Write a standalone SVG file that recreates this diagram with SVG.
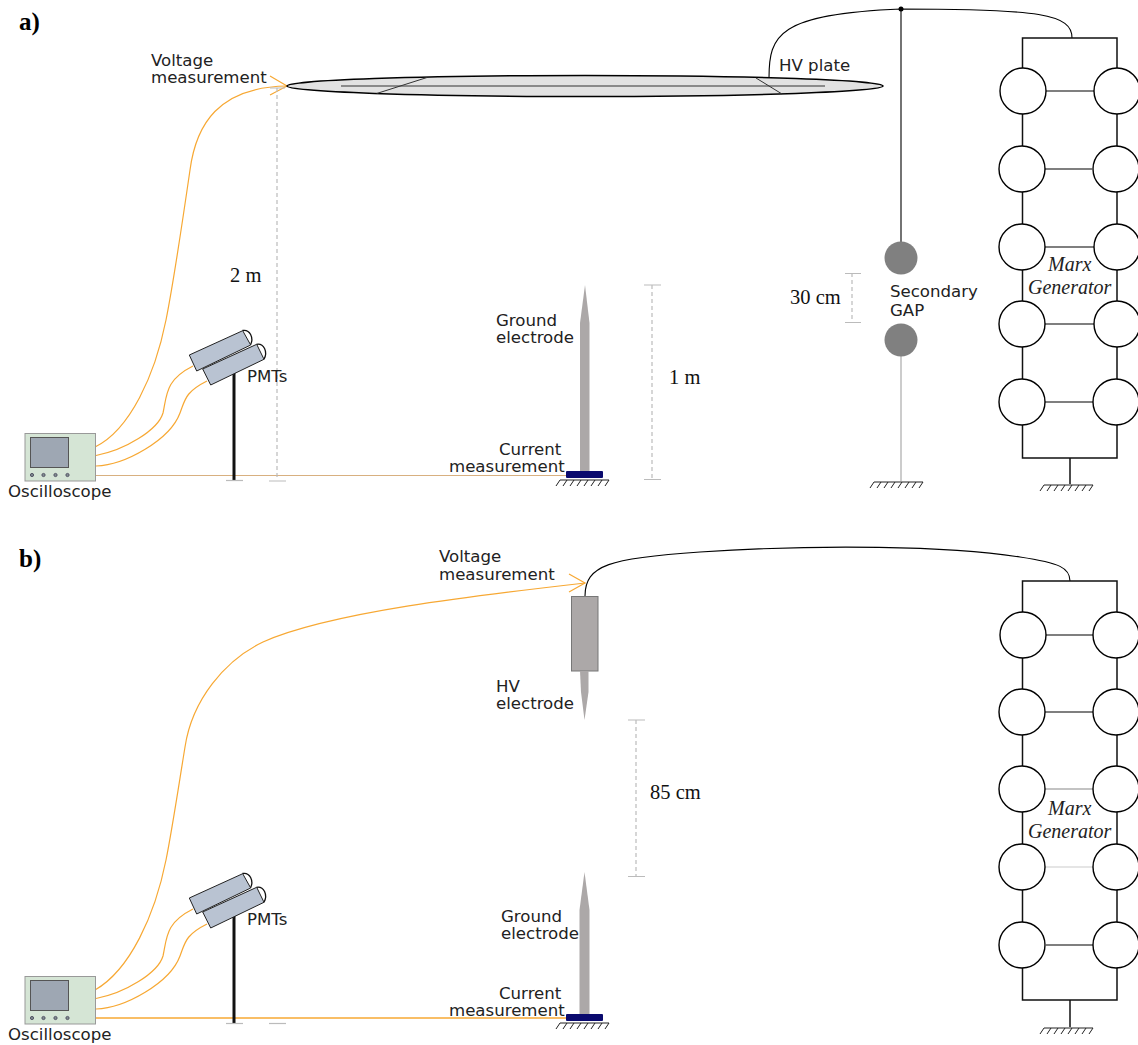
<svg xmlns="http://www.w3.org/2000/svg" xmlns:xlink="http://www.w3.org/1999/xlink" width="1138" height="1045" viewBox="0 0 1138 1045">
<style>
text{font-family:"DejaVu Sans",sans-serif;font-size:16.6px;fill:#222}
.t{font-family:"Liberation Serif",serif;font-size:20.5px;fill:#111}
.h{font-family:"Liberation Serif",serif;font-size:25px;font-weight:bold;fill:#000}
.i{font-family:"Liberation Serif",serif;font-style:italic;font-size:20px;fill:#222}
.w{fill:none;stroke:#000;stroke-width:1.1}
.f{fill:none;stroke:#111;stroke-width:1.5}
.o{fill:none;stroke:#f7a833;stroke-width:1.2}
.d{fill:none;stroke:#bbb;stroke-width:1.2;stroke-dasharray:4 3}
.k{fill:none;stroke:#bbb;stroke-width:1.2}
.c{fill:#fff;stroke:#000;stroke-width:1.4}
.g{fill:none;stroke:#222;stroke-width:1}
.e{fill:#aca8a8}
</style>
<defs>
<g id="hatch"><path class="g" d="M4,0H53M4,0L0,6M11,0L7,6M18,0L14,6M25,0L21,6M32,0L28,6M39,0L35,6M46,0L42,6M53,0L49,6"/></g>
<g id="scope">
<rect x="25" y="433.500" width="70.500" height="47.500" fill="#d5e5d5" stroke="#999"/>
<rect x="30.500" y="437.500" width="38" height="30" fill="#9ea7b3" stroke="#555"/>
<g fill="#7f8b8f" stroke="#556"><circle cx="32" cy="475" r="1.600"/><circle cx="43.500" cy="475" r="1.600"/><circle cx="55.500" cy="475" r="1.600"/><circle cx="67.500" cy="475" r="1.600"/></g>
</g>
<g id="pmt">
<path d="M234,372V480" fill="none" stroke="#111" stroke-width="3"/>
<path d="M226,480.500H243" class="k" stroke="#999"/>
<path d="M242.500,330.500C250,329 254,338 250.500,345" fill="#fff" stroke="#111" stroke-width="1.300"/>
<path d="M189.300,355L242.700,330.700L250.700,345L196.700,371Z" fill="#b9c3d2" stroke="#222"/>
<path d="M256.500,344.300C264,343 268,352 264,359.300" fill="#fff" stroke="#111" stroke-width="1.300"/>
<path d="M202.700,369L256.700,344.300L264,359.300L210.700,385Z" fill="#b9c3d2" stroke="#222"/>
</g>
<g id="gelec">
<path class="e" d="M585,0L589.500,38V186H580V38Z"/>
</g>
</defs>

<g id="connectors">
<!-- panel a -->
<path class="w" d="M769,78C769,35 778,14 901,9C1040,9 1072,14 1072,38"/>
<path class="w" d="M901,9V243"/>
<path d="M901,356V481" fill="none" stroke="#aaa" stroke-width="1.200"/>
<path class="f" d="M1070,458V484"/>
<path class="f" d="M1022.500,68V38H1117V68M1022.500,114V146M1117,114V146M1022.500,192V224M1117,192V224M1022.500,270V301M1117,270V301M1022.500,347V379M1117,347V379M1022.500,425V458H1117V425"/>
<path class="w" d="M1046,91H1094M1045,169H1092M1045,247H1094M1045,324H1094M1045,402H1093"/>
<path class="o" d="M95,447C130,430 155,375 166,320C172,290 182,225 190,170C196,125 218,87 287,86"/>
<path class="o" d="M270,76L287,86L270,95"/>
<path class="o" d="M96,455.500C125,450 158,430 163,413C167,395 165,380 193,366"/>
<path class="o" d="M96,466C125,465 170,440 180,413C185,400 185,392 207,381"/>
<path d="M96,475.500H566" fill="none" stroke="#d8b080" stroke-width="1"/>
<path class="d" d="M277,88V480"/><path class="k" d="M270,88H285M269,481H286"/>
<path class="d" d="M652,285V479"/><path class="k" d="M644,285H661M644,479.500H661"/>
<path class="d" d="M852,273V322"/><path class="k" d="M845,273.500H861M845,322.500H861"/>
<!-- panel b -->
<path class="w" d="M585,596C585,565 610,558 700,552C820,544 950,546 1020,557C1060,563 1070,568 1070,581"/>
<path class="f" d="M1070,1000V1027"/>
<path class="f" d="M1022.500,612V581H1117V612M1022.500,658V689M1117,658V689M1022.500,735V766M1117,735V766M1022.500,812V844M1117,812V844M1022.500,890V922M1117,890V922M1022.500,968V1000H1117V968"/>
<path class="w" d="M1046,635H1094M1045,712H1093"/>
<path d="M1045,789H1093" fill="none" stroke="#888" stroke-width="1.200"/>
<path d="M1045,867H1093" fill="none" stroke="#ddd" stroke-width="1.300"/>
<path class="w" d="M1046,945H1093"/>
<path class="o" d="M95,990C130,970 155,915 166,860C172,830 178,790 185,747C192,700 225,660 263,642C330,612 480,595 585,583"/>
<path class="o" d="M569,574L585,583L569,592"/>
<path class="o" d="M96,998.500C125,993 158,973 163,956C167,938 165,923 193,909"/>
<path class="o" d="M96,1009C125,1008 170,983 180,956C185,943 185,935 207,924"/>
<path d="M96,1018H566" fill="none" stroke="#f7a833" stroke-width="1.400"/>
<path class="k" d="M269,1023.500H286"/>
<path class="d" d="M636,720V876"/><path class="k" d="M628,720H645M628,876.500H645"/>
</g>

<g id="label-a"><text class="h" x="19" y="30">a)</text></g>
<g id="label-b"><text class="h" x="19" y="567">b)</text></g>

<g id="hv-plate">
<ellipse cx="585" cy="86" rx="298" ry="10.500" fill="#e2e2e2" stroke="#000" stroke-width="1.500"/>
<path d="M341,86H825M376.700,93.500L427,77.500M756,78L782,94" fill="none" stroke="#333"/>
<text x="779" y="71">HV plate</text>
</g>
<g id="voltage-a"><text x="151" y="66">Voltage</text><text x="151" y="83">measurement</text></g>
<g id="dist-2m"><text class="t" x="230" y="282">2 m</text></g>
<g id="dist-1m"><text class="t" x="669" y="384">1 m</text></g>
<g id="dist-30"><text class="t" x="790" y="304">30 cm</text></g>
<g id="dist-85"><text class="t" x="650" y="799">85 cm</text></g>

<g id="oscilloscope-a"><use href="#scope"/><text x="8" y="497">Oscilloscope</text></g>
<g id="pmts-a"><use href="#pmt"/><text x="247" y="382">PMTs</text></g>
<g id="ground-electrode-a">
<use href="#gelec" transform="translate(0,285)"/>
<rect x="566" y="471" width="37" height="7" rx="1" fill="#0a0a6e"/>
<use href="#hatch" transform="translate(556,480)"/>
<text x="496" y="326">Ground</text><text x="496" y="343">electrode</text>
<text x="499" y="455">Current</text><text x="449" y="472">measurement</text>
</g>
<g id="gap">
<circle cx="901" cy="258" r="16.500" fill="#808080"/>
<circle cx="901" cy="340" r="16.500" fill="#808080"/>
<use href="#hatch" transform="translate(870,482)"/>
<text x="890" y="297">Secondary</text><text x="890" y="316">GAP</text>
</g>
<g id="marx-a">
<circle class="c" cx="1023" cy="91" r="23"/><circle class="c" cx="1117" cy="91" r="23"/>
<circle class="c" cx="1022" cy="169" r="23"/><circle class="c" cx="1116" cy="169" r="23"/>
<circle class="c" cx="1022" cy="247" r="23"/><circle class="c" cx="1117" cy="247" r="23"/>
<circle class="c" cx="1022" cy="324" r="23"/><circle class="c" cx="1117" cy="324" r="23"/>
<circle class="c" cx="1022" cy="402" r="23"/><circle class="c" cx="1116" cy="402" r="23"/>
<text class="i" x="1048" y="271">Marx</text><text class="i" x="1028" y="294">Generator</text>
<use href="#hatch" transform="translate(1040,485)"/>
</g>

<g id="voltage-b"><text x="439" y="562">Voltage</text><text x="439" y="580">measurement</text></g>
<g id="hv-electrode">
<rect x="571.500" y="596.500" width="26.500" height="74.500" fill="#aca8a8" stroke="#777" stroke-width="1"/>
<path class="e" d="M580,671H588.500V692L584.500,720L581,692Z"/>
<text x="496" y="692">HV</text><text x="496" y="709">electrode</text>
</g>
<g id="oscilloscope-b"><use href="#scope" transform="translate(0,543)"/><text x="8" y="1040">Oscilloscope</text></g>
<g id="pmts-b"><use href="#pmt" transform="translate(0,543)"/><text x="247" y="925">PMTs</text></g>
<g id="ground-electrode-b">
<path class="e" d="M584.500,872L589.500,910V1014H579.500V910Z"/>
<rect x="566" y="1014" width="37" height="7" rx="1" fill="#0a0a6e"/>
<use href="#hatch" transform="translate(556,1023)"/>
<text x="501" y="922">Ground</text><text x="501" y="939">electrode</text>
<text x="499" y="999">Current</text><text x="449" y="1016">measurement</text>
</g>
<g id="marx-b">
<circle class="c" cx="1023" cy="635" r="23"/><circle class="c" cx="1116" cy="635" r="23"/>
<circle class="c" cx="1022" cy="712" r="23"/><circle class="c" cx="1116" cy="712" r="23"/>
<circle class="c" cx="1022" cy="789" r="23"/><circle class="c" cx="1116" cy="789" r="23"/>
<circle class="c" cx="1022" cy="867" r="23"/><circle class="c" cx="1116" cy="867" r="23"/>
<circle class="c" cx="1022" cy="945" r="23"/><circle class="c" cx="1116" cy="945" r="23"/>
<text class="i" x="1048" y="815">Marx</text><text class="i" x="1028" y="838">Generator</text>
<use href="#hatch" transform="translate(1040,1028)"/>
</g>
<circle id="junction" cx="901" cy="9" r="2.500" fill="#000"/>
</svg>
